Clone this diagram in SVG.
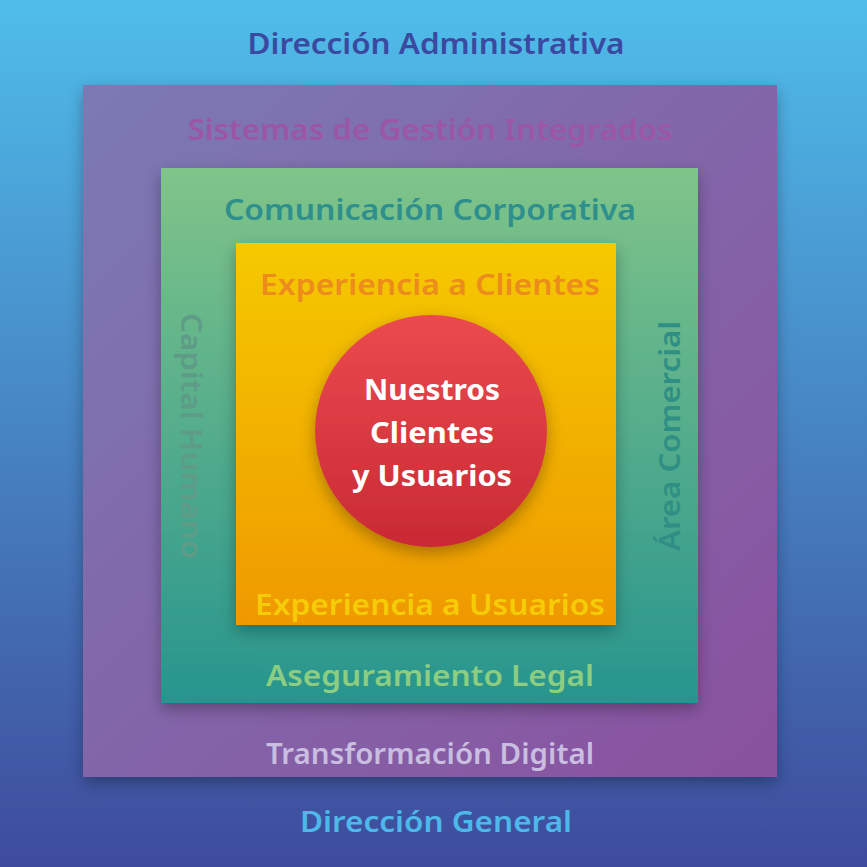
<svg xmlns="http://www.w3.org/2000/svg" width="867" height="867" viewBox="0 0 867 867">
<defs>
<linearGradient id="gOuter" x1="0" y1="0" x2="0" y2="1"><stop offset="0" stop-color="#4fbdea"/><stop offset="1" stop-color="#3e4b9c"/></linearGradient>
<linearGradient id="gPurple" x1="0" y1="0" x2="1" y2="1"><stop offset="0" stop-color="#7b7ab4"/><stop offset="1" stop-color="#8a519f"/></linearGradient>
<linearGradient id="gGreen" x1="0" y1="0" x2="0" y2="1"><stop offset="0" stop-color="#80c489"/><stop offset="1" stop-color="#27958e"/></linearGradient>
<linearGradient id="gYellow" x1="0" y1="0" x2="0" y2="1"><stop offset="0" stop-color="#f5c900"/><stop offset="1" stop-color="#ef9900"/></linearGradient>
<linearGradient id="gRed" x1="0" y1="0" x2="0" y2="1"><stop offset="0" stop-color="#eb4a4f"/><stop offset="1" stop-color="#c92a34"/></linearGradient>
<filter id="sh" x="-20%" y="-20%" width="140%" height="140%"><feDropShadow dx="0" dy="6" stdDeviation="8" flood-opacity="0.3"/></filter>
</defs>
<style>
text{font-family:"Noto Sans","Open Sans",sans-serif;font-weight:600;text-anchor:middle;dominant-baseline:central}
.l{font-size:29px}
.c{font-size:29px;font-weight:700;fill:#fff}
</style>
<g id="outer"><rect x="0" y="0" width="867" height="867" fill="url(#gOuter)"/>
<text class="l" x="436" y="42" fill="#3b4aa0" textLength="377" lengthAdjust="spacingAndGlyphs">Dirección Administrativa</text>
<text class="l" x="436" y="820" fill="#4db8ea" textLength="272" lengthAdjust="spacingAndGlyphs">Dirección General</text></g>
<g id="purple"><rect x="83" y="85" width="694" height="692" fill="url(#gPurple)" filter="url(#sh)"/>
<text class="l" x="430" y="128" fill="#9c56a6" textLength="485" lengthAdjust="spacingAndGlyphs">Sistemas de Gestión Integrados</text>
<text class="l" x="430" y="752" fill="#c9bde0" textLength="328" lengthAdjust="spacingAndGlyphs">Transformación Digital</text></g>
<g id="green"><rect x="161" y="168" width="537" height="535" fill="url(#gGreen)" filter="url(#sh)"/>
<text class="l" x="430" y="208" fill="#2f8f8d" textLength="412" lengthAdjust="spacingAndGlyphs">Comunicación Corporativa</text>
<text class="l" x="430" y="674" fill="#8ccd82" textLength="328" lengthAdjust="spacingAndGlyphs">Aseguramiento Legal</text>
<text class="l" transform="translate(192,436) rotate(90)" fill="#5e9c88" textLength="246" lengthAdjust="spacingAndGlyphs">Capital Humano</text>
<text class="l" transform="translate(668,436) rotate(-90)" fill="#2f8f84" textLength="230" lengthAdjust="spacingAndGlyphs">Área Comercial</text></g>
<g id="yellow"><rect x="236" y="243" width="380" height="382" fill="url(#gYellow)" filter="url(#sh)"/>
<text class="l" x="430" y="283" fill="#ec8c1c" textLength="340" lengthAdjust="spacingAndGlyphs">Experiencia a Clientes</text>
<text class="l" x="430" y="603" fill="#f6cb08" textLength="350" lengthAdjust="spacingAndGlyphs">Experiencia a Usuarios</text></g>
<g id="center"><circle cx="431" cy="431" r="116" fill="url(#gRed)" filter="url(#sh)"/>
<text class="c" x="432" y="388" textLength="136" lengthAdjust="spacingAndGlyphs">Nuestros</text>
<text class="c" x="432" y="431" textLength="124" lengthAdjust="spacingAndGlyphs">Clientes</text>
<text class="c" x="432" y="474" textLength="160" lengthAdjust="spacingAndGlyphs">y Usuarios</text></g>
<g id="connectors"/>
</svg>
